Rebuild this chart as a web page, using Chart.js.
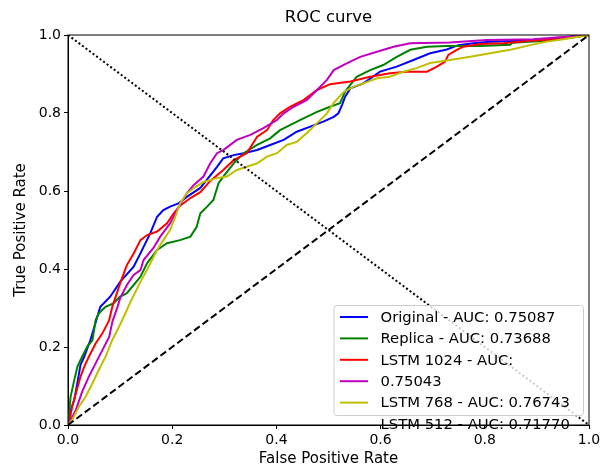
<!DOCTYPE html>
<html>
<head>
<meta charset="utf-8">
<script src="https://cdn.jsdelivr.net/npm/chart.js@4"></script>
<style>
  html, body { margin: 0; padding: 0; background: #fff; }
  #wrap { width: 604px; height: 472px; }
</style>
</head>
<body>
<div id="wrap"><canvas id="roc" width="604" height="472"></canvas></div>
<script>
// ROC curves (false positive rate / true positive rate)
const originalFpr = [0, 0.005, 0.012, 0.018, 0.024, 0.031, 0.043, 0.062, 0.081, 0.100, 0.126, 0.139, 0.158, 0.171, 0.183, 0.196, 0.212, 0.228, 0.254, 0.286, 0.298, 0.318, 0.337, 0.363, 0.388, 0.414, 0.439, 0.465, 0.490, 0.510, 0.519, 0.526, 0.532, 0.542, 0.567, 0.599, 0.631, 0.663, 0.695, 0.727, 0.749, 0.778, 0.810, 0.887, 1];
const originalTpr = [0, 0.038, 0.064, 0.108, 0.154, 0.175, 0.218, 0.303, 0.329, 0.367, 0.406, 0.440, 0.492, 0.534, 0.551, 0.560, 0.568, 0.585, 0.608, 0.662, 0.684, 0.692, 0.697, 0.705, 0.718, 0.731, 0.752, 0.765, 0.778, 0.790, 0.799, 0.821, 0.842, 0.863, 0.876, 0.906, 0.919, 0.936, 0.953, 0.963, 0.974, 0.979, 0.983, 0.986, 1];

const replicaFpr = [0, 0.005, 0.012, 0.018, 0.027, 0.037, 0.047, 0.053, 0.059, 0.072, 0.087, 0.100, 0.113, 0.126, 0.139, 0.152, 0.171, 0.190, 0.215, 0.235, 0.247, 0.254, 0.267, 0.279, 0.289, 0.298, 0.318, 0.337, 0.363, 0.388, 0.407, 0.426, 0.452, 0.478, 0.503, 0.522, 0.532, 0.554, 0.580, 0.605, 0.631, 0.657, 0.689, 0.727, 0.791, 0.849, 0.852, 0.926, 1];
const replicaTpr = [0, 0.073, 0.115, 0.149, 0.175, 0.201, 0.218, 0.269, 0.286, 0.303, 0.312, 0.329, 0.338, 0.359, 0.380, 0.415, 0.449, 0.466, 0.474, 0.483, 0.508, 0.543, 0.560, 0.577, 0.620, 0.637, 0.671, 0.697, 0.718, 0.735, 0.756, 0.769, 0.786, 0.803, 0.816, 0.825, 0.855, 0.893, 0.910, 0.923, 0.944, 0.962, 0.970, 0.972, 0.972, 0.975, 0.980, 0.986, 1];

const lstm1024Fpr = [0, 0.002, 0.008, 0.015, 0.024, 0.031, 0.040, 0.053, 0.066, 0.079, 0.085, 0.100, 0.113, 0.126, 0.139, 0.152, 0.171, 0.190, 0.203, 0.215, 0.235, 0.254, 0.273, 0.298, 0.318, 0.343, 0.363, 0.382, 0.394, 0.407, 0.426, 0.452, 0.478, 0.503, 0.542, 0.580, 0.618, 0.650, 0.689, 0.708, 0.724, 0.730, 0.746, 0.759, 0.791, 0.836, 0.887, 0.938, 1];
const lstm1024Tpr = [0, 0.005, 0.047, 0.081, 0.124, 0.149, 0.175, 0.209, 0.235, 0.269, 0.303, 0.363, 0.410, 0.440, 0.474, 0.487, 0.496, 0.517, 0.543, 0.562, 0.582, 0.597, 0.626, 0.654, 0.679, 0.697, 0.739, 0.756, 0.782, 0.799, 0.816, 0.833, 0.859, 0.874, 0.881, 0.893, 0.902, 0.906, 0.906, 0.919, 0.932, 0.949, 0.962, 0.970, 0.977, 0.979, 0.985, 0.989, 1];

const magentaFpr = [0, 0.015, 0.027, 0.040, 0.053, 0.066, 0.079, 0.085, 0.095, 0.100, 0.113, 0.126, 0.139, 0.145, 0.164, 0.177, 0.196, 0.209, 0.228, 0.241, 0.260, 0.273, 0.286, 0.298, 0.324, 0.350, 0.375, 0.401, 0.414, 0.433, 0.458, 0.478, 0.497, 0.510, 0.535, 0.561, 0.593, 0.625, 0.657, 0.733, 0.804, 0.893, 1];
const magentaTpr = [0, 0.038, 0.085, 0.124, 0.158, 0.192, 0.226, 0.264, 0.303, 0.325, 0.359, 0.385, 0.397, 0.423, 0.454, 0.483, 0.517, 0.551, 0.594, 0.615, 0.637, 0.671, 0.697, 0.705, 0.731, 0.744, 0.761, 0.782, 0.799, 0.816, 0.833, 0.859, 0.885, 0.910, 0.927, 0.944, 0.957, 0.970, 0.979, 0.981, 0.987, 0.989, 1];

const yellowFpr = [0, 0.008, 0.021, 0.034, 0.047, 0.059, 0.072, 0.085, 0.098, 0.110, 0.120, 0.139, 0.155, 0.171, 0.183, 0.196, 0.206, 0.215, 0.228, 0.241, 0.260, 0.286, 0.305, 0.324, 0.343, 0.363, 0.382, 0.401, 0.420, 0.439, 0.458, 0.478, 0.497, 0.510, 0.529, 0.548, 0.567, 0.593, 0.618, 0.644, 0.669, 0.695, 0.733, 0.772, 0.810, 0.849, 0.887, 0.919, 0.951, 1];
const yellowTpr = [0, 0.013, 0.047, 0.073, 0.107, 0.141, 0.175, 0.218, 0.252, 0.286, 0.316, 0.367, 0.406, 0.449, 0.474, 0.500, 0.534, 0.568, 0.594, 0.607, 0.623, 0.633, 0.637, 0.654, 0.662, 0.671, 0.688, 0.697, 0.718, 0.726, 0.748, 0.774, 0.799, 0.826, 0.854, 0.867, 0.876, 0.889, 0.893, 0.906, 0.915, 0.928, 0.936, 0.944, 0.953, 0.962, 0.974, 0.983, 0.989, 1];

const chanceX = [0, 1];
const chanceY = [0, 1];
const crossY = [1, 0];

const tickValues = [0, 0.2, 0.4, 0.6, 0.8, 1.0];

// legend as it appears in the picture (the third label wraps onto two rows)
const legendLabels = [
  'Original - AUC: 0.75087',
  'Replica - AUC: 0.73688',
  'LSTM 1024 - AUC:',
  '0.75043',
  'LSTM 768 - AUC: 0.76743',
  'LSTM 512 - AUC: 0.71770'
];
const legendColors = ['#0000ff', '#008000', '#ff0000', '#bf00bf', '#bfbf00', null];

const FONT = '"DejaVu Sans", sans-serif';

function toPoints(xs, ys) {
  return xs.map((x, i) => ({ x: x, y: ys[i] }));
}

function curve(label, xs, ys, color, order) {
  return {
    label: label,
    data: toPoints(xs, ys),
    borderColor: color,
    borderWidth: 2,
    pointRadius: 0,
    tension: 0,
    fill: false,
    order: order
  };
}

const datasets = [
  curve('Original', originalFpr, originalTpr, legendColors[0], 7),
  curve('Replica', replicaFpr, replicaTpr, legendColors[1], 6),
  curve('LSTM 1024', lstm1024Fpr, lstm1024Tpr, legendColors[2], 5),
  curve('magenta', magentaFpr, magentaTpr, legendColors[3], 4),
  curve('yellow', yellowFpr, yellowTpr, legendColors[4], 3),
  {
    label: 'chance',
    data: toPoints(chanceX, chanceY),
    borderColor: '#000',
    borderWidth: 2,
    borderDash: [7, 3.5],
    pointRadius: 0,
    order: 2
  },
  {
    label: 'cross',
    data: toPoints(chanceX, crossY),
    borderColor: '#000',
    borderWidth: 2,
    borderDash: [2, 2.4],
    pointRadius: 0,
    order: 1
  }
];

const moldura = {
  id: 'moldura',
  afterDatasetsDraw(chart) {
    const ctx = chart.ctx;
    const a = chart.chartArea;

    // title
    ctx.save();
    ctx.fillStyle = '#000';
    ctx.font = '16.5px ' + FONT;
    ctx.textAlign = 'center';
    ctx.textBaseline = 'middle';
    ctx.fillText('ROC curve', (a.left + a.right) / 2, 18);
    ctx.restore();

    // legend box
    const bx = 334, by = 305.5, bw = 249.5, bh = 110;
    ctx.save();
    ctx.beginPath();
    ctx.roundRect(bx, by, bw, bh, 3);
    ctx.fillStyle = 'rgba(255,255,255,0.8)';
    ctx.fill();
    ctx.strokeStyle = '#cccccc';
    ctx.lineWidth = 1;
    ctx.stroke();

    ctx.font = '14.8px ' + FONT;
    ctx.textAlign = 'left';
    ctx.textBaseline = 'middle';
    legendLabels.forEach((txt, i) => {
      const y = 317 + i * 21.4;
      if (legendColors[i]) {
        ctx.beginPath();
        ctx.moveTo(340, y);
        ctx.lineTo(368, y);
        ctx.strokeStyle = legendColors[i];
        ctx.lineWidth = 2;
        ctx.stroke();
      }
      ctx.fillStyle = '#000';
      ctx.fillText(txt, 380.5, y + 1);
    });
    ctx.restore();
  },
  afterDraw(chart) {
    const ctx = chart.ctx;
    const a = chart.chartArea;
    ctx.save();
    ctx.strokeStyle = '#000';
    ctx.lineWidth = 1;
    ctx.strokeRect(a.left, a.top, a.right - a.left, a.bottom - a.top);
    ctx.restore();
  }
};

const tickOpts = {
  color: '#000',
  font: { family: FONT, size: 14 },
  padding: 3,
  autoSkip: false,
  callback: v => v.toFixed(1)
};

new Chart(document.getElementById('roc'), {
  type: 'line',
  data: { datasets: datasets },
  plugins: [moldura],
  options: {
    responsive: false,
    animation: false,
    layout: { padding: { top: 35, right: 15, left: 0, bottom: 0 } },
    plugins: {
      legend: { display: false },
      title: { display: false },
      tooltip: { enabled: false }
    },
    scales: {
      x: {
        type: 'linear',
        min: 0,
        max: 1,
        afterFit(s) { s.height = 47; },
        afterBuildTicks(s) { s.ticks = tickValues.map(v => ({ value: v })); },
        ticks: tickOpts,
        grid: { display: true, drawOnChartArea: false, drawTicks: true, tickLength: 4, color: '#000' },
        border: { display: true, color: '#000', width: 1 },
        title: { display: true, text: 'False Positive Rate', color: '#000', font: { family: FONT, size: 15 }, padding: { top: 4, bottom: 4 } }
      },
      y: {
        type: 'linear',
        min: 0,
        max: 1,
        afterFit(s) { s.width = 68; },
        afterBuildTicks(s) { s.ticks = tickValues.map(v => ({ value: v })); },
        ticks: tickOpts,
        grid: { display: true, drawOnChartArea: false, drawTicks: true, tickLength: 4, color: '#000' },
        border: { display: true, color: '#000', width: 1 },
        title: { display: true, text: 'True Positive Rate', color: '#000', font: { family: FONT, size: 15 }, padding: { top: 12, bottom: 4 } }
      }
    }
  }
});
</script>
</body>
</html>
